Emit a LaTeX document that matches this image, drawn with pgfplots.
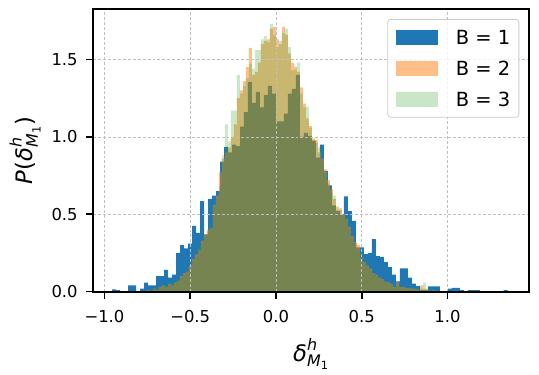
\documentclass[border=0pt]{standalone}
\usepackage{amsmath}
\usepackage{fontspec}
\setmainfont{DejaVu Sans}
\usepackage{pgfplots}
\usepackage{pgfplotstable}
\pgfplotsset{compat=1.18}

\definecolor{tabblue}{HTML}{1F77B4}
\definecolor{taborange}{HTML}{FF7F0E}
\definecolor{tabgreen}{HTML}{2CA02C}

% B = 1: left bin edges and densities (last row closes the last bin)
\pgfplotstableread{
x y
-0.9553 0.015
-0.932 0.01
-0.9087 0
-0.8854 0
-0.8621 0.04
-0.8388 0.04
-0.8155 0
-0.7922 0.02
-0.7689 0.058
-0.7456 0.04
-0.7223 0.04
-0.699 0.10
-0.6757 0.10
-0.6524 0.14
-0.6291 0.09
-0.6058 0.11
-0.5825 0.25
-0.5592 0.30
-0.5359 0.28
-0.5126 0.31
-0.4893 0.425
-0.466 0.38
-0.4427 0.585
-0.4194 0.37
-0.3961 0.60
-0.3728 0.62
-0.3495 0.65
-0.3262 0.84
-0.3029 0.935
-0.2796 0.90
-0.2563 0.95
-0.233 0.94
-0.2097 1.066
-0.1864 1.16
-0.1631 1.355
-0.1398 1.22
-0.1165 1.29
-0.0932 1.19
-0.0699 1.27
-0.0466 1.33
-0.0233 1.28
0 1.10
0.0233 1.10
0.0466 1.15
0.0699 1.28
0.0932 1.31
0.1165 1.40
0.1398 1.00
0.1631 1.025
0.1864 1.006
0.2097 0.974
0.233 0.865
0.2563 0.949
0.2796 0.78
0.3029 0.686
0.3262 0.558
0.3495 0.52
0.3728 0.50
0.3961 0.615
0.4194 0.52
0.4427 0.457
0.466 0.286
0.4893 0.286
0.5126 0.243
0.5359 0.25
0.5592 0.34
0.5825 0.23
0.6058 0.224
0.6291 0.19
0.6524 0.16
0.6757 0.11
0.699 0.066
0.7223 0.15
0.7456 0.15
0.7689 0.09
0.7922 0.051
0.8155 0.036
0.8388 0.01
0.8621 0.01
0.8854 0.034
0.9087 0.034
0.932 0.034
0.9553 0
0.9786 0
1.0019 0.02
1.0252 0.025
1.0485 0.025
1.0718 0.01
1.0951 0
1.1184 0.01
1.1417 0.01
1.165 0.01
1.1883 0
1.2116 0
1.2349 0
1.2582 0
1.2815 0
1.3048 0
1.3281 0.01
1.3514 0
1.3747 0
}\bone

% B = 2 (o) and B = 3 (g): left bin edges and densities
\pgfplotstableread{
x o g
-0.7525 0.01 0.00
-0.735 0.00 0.01
-0.7175 0.02 0.01
-0.7 0.01 0.03
-0.6825 0.03 0.02
-0.665 0.04 0.03
-0.6475 0.03 0.04
-0.63 0.05 0.04
-0.6125 0.04 0.06
-0.595 0.06 0.05
-0.5775 0.07 0.08
-0.56 0.10 0.09
-0.5425 0.12 0.11
-0.525 0.13 0.14
-0.5075 0.17 0.15
-0.49 0.21 0.20
-0.4725 0.24 0.22
-0.455 0.27 0.29
-0.4375 0.33 0.31
-0.42 0.37 0.36
-0.4025 0.40 0.39
-0.385 0.41 0.42
-0.3675 0.56 0.55
-0.35 0.62 0.60
-0.3325 0.77 0.68
-0.315 0.86 0.88
-0.2975 0.90 1.08
-0.28 0.93 0.97
-0.2625 1.00 1.17
-0.245 1.08 1.17
-0.2275 1.25 1.40
-0.21 1.30 1.28
-0.1925 1.36 1.33
-0.175 1.45 1.38
-0.1575 1.575 1.47
-0.14 1.40 1.44
-0.1225 1.42 1.56
-0.105 1.48 1.56
-0.0875 1.60 1.63
-0.07 1.62 1.65
-0.0525 1.63 1.61
-0.035 1.70 1.73
-0.0175 1.71 1.66
0 1.63 1.58
0.0175 1.60 1.62
0.035 1.71 1.67
0.0525 1.66 1.70
0.07 1.54 1.58
0.0875 1.48 1.43
0.105 1.45 1.435
0.1225 1.42 1.48
0.14 1.32 1.28
0.1575 1.215 1.19
0.175 1.12 1.195
0.1925 1.07 1.06
0.21 0.99 0.98
0.2275 0.98 0.96
0.245 0.90 0.93
0.2625 0.86 0.84
0.28 0.79 0.77
0.2975 0.72 0.70
0.315 0.66 0.64
0.3325 0.60 0.62
0.35 0.55 0.53
0.3675 0.53 0.54
0.385 0.50 0.48
0.4025 0.47 0.48
0.42 0.42 0.40
0.4375 0.36 0.34
0.455 0.32 0.31
0.4725 0.30 0.27
0.49 0.22 0.24
0.5075 0.19 0.18
0.525 0.17 0.18
0.5425 0.15 0.14
0.56 0.12 0.11
0.5775 0.11 0.10
0.595 0.09 0.10
0.6125 0.08 0.07
0.63 0.065 0.06
0.6475 0.06 0.05
0.665 0.05 0.045
0.6825 0.03 0.04
0.7 0.065 0.04
0.7175 0.03 0.03
0.735 0.03 0.02
0.7525 0.025 0.03
0.77 0.025 0.02
0.7875 0.02 0.02
0.805 0.02 0.015
0.8225 0.01 0.02
0.84 0.04 0.02
0.8575 0.02 0.058
0.875 0.01 0.02
0.8925 0.00 0.01
0.91 0.01 0.00
0.9275 0.00 0.01
0.945 0 0
}\btwothree

\begin{document}
\begin{tikzpicture}
\begin{axis}[
  scale only axis,
  width=327pt, height=212pt,
  xmin=-1.065, xmax=1.477,
  ymin=0, ymax=1.826,
  axis on top,
  axis line style={line width=1.6pt},
  tick align=outside,
  xtick pos=left, ytick pos=left,
  major tick length=5.25pt,
  tick style={line width=1.2pt, black},
  xtick={-1,-0.5,0,0.5,1},
  xticklabels={−1.0,−0.5,0.0,0.5,1.0},
  ytick={0,0.5,1,1.5},
  yticklabels={0.0,0.5,1.0,1.5},
  ticklabel style={font=\fontsize{12.3}{14}\selectfont},
  xticklabel style={yshift=-5.5pt},
  yticklabel style={xshift=-3pt},
  grid=major,
  grid style={gray!50, line width=0.45pt, dash pattern=on 2.2pt off 1.5pt},
  every axis x label/.style={at={(rel axis cs:0.5,0)}, anchor=center, yshift=-46.7pt},
  every axis y label/.style={at={(rel axis cs:0,0.5)}, anchor=center, rotate=90, yshift=51.2pt},
  label style={font=\fontsize{17}{20}\selectfont},
  xlabel={$\textit{δ}^{\textit{h}}_{\textit{M}_{\text{1}}}$},
  ylabel={$\textit{P}\text{(}\textit{δ}^{\textit{h}}_{\textit{M}_{\text{1}}}\text{)}$},
  legend image code/.code={\fill[#1, draw=none, sharp corners] (0pt,-5.6pt) rectangle (31.5pt,5.65pt);},
  legend cell align=left,
  legend style={
    at={(1,1)}, anchor=north east, xshift=-7.5pt, yshift=-7.5pt,
    draw=black!20, line width=0.6pt, rounded corners=2pt,
    fill=white, fill opacity=0.8, text opacity=1,
    inner xsep=6.5pt, inner ysep=7.8pt, row sep=12pt,
    font=\fontsize{14.6}{17}\selectfont,
    nodes={inner sep=0pt, text height=11.25pt, text depth=0pt},
    /tikz/every odd column/.append style={column sep=13pt},
  },
]
\addplot[const plot, fill=tabblue, fill opacity=1, draw=none]
  table[x=x, y=y] {\bone} \closedcycle;
\addlegendentry{B = 1}
\addplot[const plot, fill=taborange, fill opacity=0.5, draw=none]
  table[x=x, y=o] {\btwothree} \closedcycle;
\addlegendentry{B = 2}
\addplot[const plot, fill=tabgreen, fill opacity=0.25, draw=none]
  table[x=x, y=g] {\btwothree} \closedcycle;
\addlegendentry{B = 3}
\coordinate (bl) at (rel axis cs:0,0);
\coordinate (tr) at (rel axis cs:1,1);
\end{axis}
\pgfresetboundingbox
\path[use as bounding box] ([shift={(-70pt,-62.5pt)}]bl) rectangle ([shift={(7.3pt,6.75pt)}]tr);
\end{tikzpicture}
\end{document}
